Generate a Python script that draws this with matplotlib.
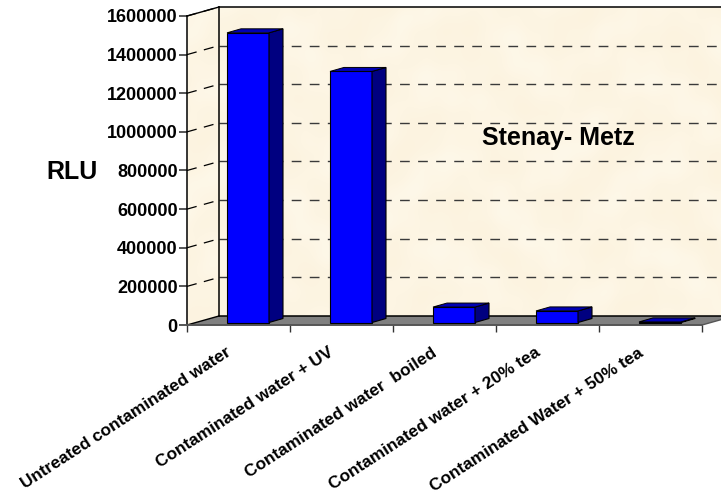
import numpy as np
import matplotlib
matplotlib.use("Agg")
import matplotlib.pyplot as plt
from matplotlib.patches import Polygon
from matplotlib.colors import LinearSegmentedColormap

plt.rcParams['font.family'] = ['Liberation Sans', 'DejaVu Sans']

categories = ["Untreated contaminated water", "Contaminated water + UV",
              "Contaminated water  boiled", "Contaminated water + 20% tea",
              "Contaminated Water + 50% tea"]
values = [1500000, 1300000, 80000, 60000, 3000]
yticks = [0, 200000, 400000, 600000, 800000, 1000000, 1200000, 1400000, 1600000]

W, H = 721, 499
YMAX = 1600000
n = len(categories)

fig = plt.figure(figsize=(W / 100, H / 100), dpi=100, facecolor='white')
# front plane of the fake 3D box: x 187-702, y 325-16 in pixels
ax = fig.add_axes([187 / W, 1 - 325 / H, 515 / W, 309 / H])
ax.patch.set_visible(False)
for s in ax.spines.values():
    s.set_visible(False)

# depth offset of the box and of the bars, in data units
dx = 32 / 103
dy = 9 / 309 * YMAX
bar_dx = 14 / 103
bar_dy = 4 / 309 * YMAX
bar_w = 42 / 103
bar_off = 2.5 / 309 * YMAX

# parchment look on the walls, just overlapping sines
yy, xx = np.mgrid[0:160, 0:280]
tex = (np.sin(xx / 9.0 + np.sin(yy / 13.0) * 2) + np.sin(yy / 7.0 + np.sin(xx / 17.0) * 3)
       + 0.6 * np.sin((xx + yy) / 4.3) * np.sin((xx - yy) / 5.1))
parchment = LinearSegmentedColormap.from_list('parchment', ['#FCF3DF', '#FDF5E3', '#FEF8E9'])
im = ax.imshow(tex, extent=(0, n + dx, 0, YMAX + dy), aspect='auto', cmap=parchment,
               interpolation='bicubic', zorder=1)
walls = Polygon([(0, 0), (dx, dy), (n + dx, dy), (n + dx, YMAX + dy), (dx, YMAX + dy), (0, YMAX)],
                transform=ax.transData, fc='none', ec='none')
im.set_clip_path(walls)
im.set_clip_box(fig.bbox)
ax.set_xlim(0, n)
ax.set_ylim(0, YMAX)

# floor
ax.add_patch(Polygon([(0, 0), (n, 0), (n + dx, dy), (dx, dy)],
                     fc='#808080', ec='none', clip_on=False, zorder=2))

# gridlines across both walls
for v in yticks[1:]:
    ax.plot([0, dx], [v, v + dy], color='black', lw=0.9, ls=(0, (8, 6)),
            clip_on=False, zorder=2)
    if v < YMAX:
        ax.plot([dx, n + dx], [v + dy, v + dy], color='#3a3a3a', lw=1.0,
                ls=(0, (7, 6)), clip_on=False, zorder=2)

# box outlines
ax.plot([dx, n + dx], [YMAX + dy, YMAX + dy], color='black', lw=1.1, clip_on=False, zorder=3)
ax.plot([dx, n + dx], [dy, dy], color='black', lw=1.1, clip_on=False, zorder=3)
ax.plot([dx, dx], [dy, YMAX + dy], color='black', lw=1.1, clip_on=False, zorder=3)
ax.plot([0, dx], [YMAX, YMAX + dy], color='black', lw=1.0, clip_on=False, zorder=3)
ax.plot([0, dx], [0, dy], color='black', lw=1.0, clip_on=False, zorder=3)
ax.plot([0, 0], [0, YMAX], color='black', lw=1.1, clip_on=False, zorder=3)
ax.plot([0, n], [0, 0], color='#555555', lw=1.4, clip_on=False, zorder=3)
ax.plot([n, n + dx], [0, dy], color='#555555', lw=1.0, clip_on=False, zorder=3)

# bars
for i, v in enumerate(values):
    x0 = i + 40 / 103
    x1 = x0 + bar_w
    top = v + bar_off
    ax.bar(x0, v, width=bar_w, bottom=bar_off, align='edge', fc='#0000FF',
           ec='black', lw=0.8, zorder=5, clip_on=False)
    ax.add_patch(Polygon([(x1, bar_off), (x1 + bar_dx, bar_off + bar_dy),
                          (x1 + bar_dx, top + bar_dy), (x1, top)],
                         fc='#000080', ec='black', lw=0.8, zorder=5, clip_on=False))
    ax.add_patch(Polygon([(x0, top), (x1, top), (x1 + bar_dx, top + bar_dy),
                          (x0 + bar_dx, top + bar_dy)],
                         fc='#0000B4', ec='black', lw=0.7, zorder=6, clip_on=False))

ax.set_yticks(yticks)
ax.set_yticklabels([str(v) for v in yticks], fontsize=13, fontweight='bold')
ax.tick_params(axis='y', length=5.8, width=1.4, color='#555555', pad=1)
ax.set_xticks(range(n + 1))
ax.set_xticklabels([''] * (n + 1))
ax.tick_params(axis='x', length=5, width=1.0, color='#333333')

# category labels, rotated, ending near the middle of each group
for i, c in enumerate(categories):
    ax.annotate(c, xy=(i + 0.5, 0), xytext=(-13, -20), textcoords='offset pixels',
                rotation=33, ha='right', va='top', rotation_mode='anchor',
                fontsize=12.4, fontweight='bold', annotation_clip=False)

fig.text(72 / W, 1 - 172 / H, 'RLU', fontsize=18, fontweight='bold', ha='center', va='center')
fig.text(558 / W, 1 - 138 / H, 'Stenay- Metz', fontsize=18, fontweight='bold', ha='center', va='center')

fig.savefig('out.png', dpi=100)
